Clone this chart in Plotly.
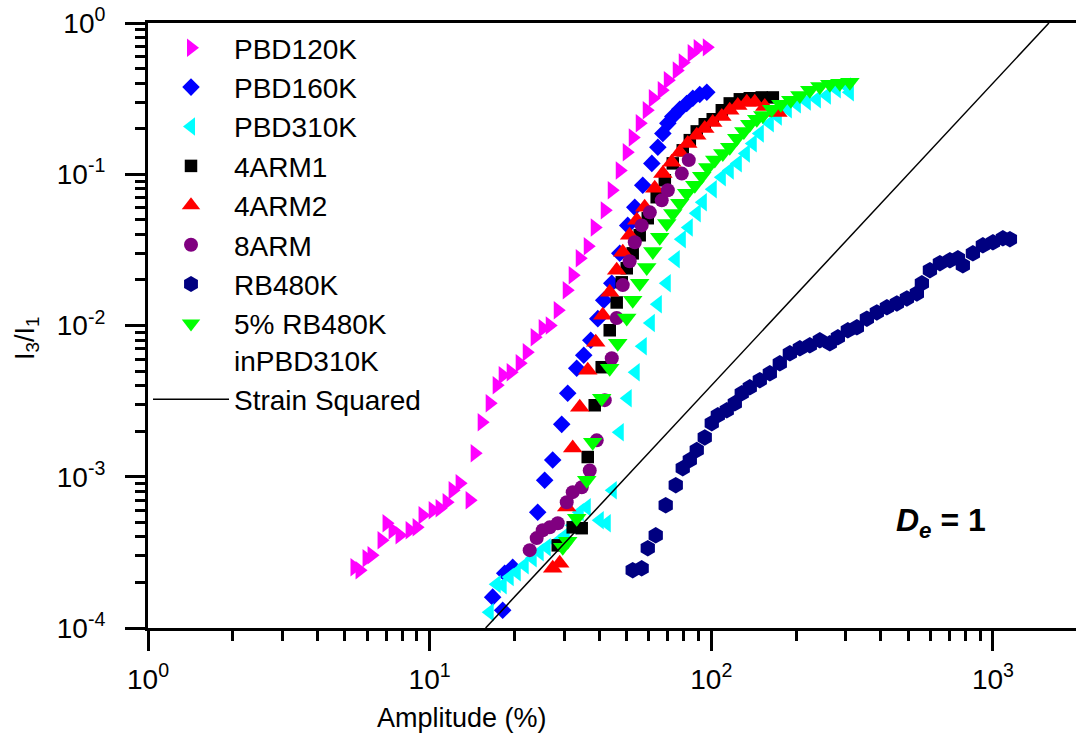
import plotly.graph_objects as go

# ---------------- data (amplitude %, I3/I1) ----------------
pbd120k_x = [5.41, 5.64, 5.97, 6.22, 6.75, 7.03, 7.39, 7.82, 8.49, 8.99, 9.44, 10.25, 10.85, 11.49,
             12.07, 12.78, 13.87, 14.45, 15.30, 16.34, 17.30, 18.17, 19.40, 20.88, 22.12, 23.60,
             25.20, 26.69, 28.50, 30.67, 32.21, 34.12, 36.42, 38.56, 41.86, 44.32, 47.32, 50.11,
             52.63, 55.72, 59.0, 62.0, 66.7, 70.1, 75.4, 79.2, 85.2, 89.5, 96.4]
pbd120k_y = [2.52e-4, 2.41e-4, 2.89e-4, 3.03e-4, 3.80e-4, 4.93e-4, 4.43e-4, 4.10e-4, 4.43e-4, 4.63e-4,
             5.56e-4, 6.01e-4, 6.19e-4, 6.79e-4, 8.14e-4, 9.06e-4, 7.00e-4, 1.43e-3, 2.29e-3, 3.06e-3,
             4.03e-3, 4.69e-3, 4.91e-3, 5.62e-3, 6.65e-3, 8.36e-3, 9.59e-3, 1.00e-2, 1.26e-2, 1.71e-2,
             2.15e-2, 2.78e-2, 3.34e-2, 4.45e-2, 5.77e-2, 7.83e-2, 0.106, 0.140, 0.175, 0.217, 0.265,
             0.318, 0.359, 0.418, 0.486, 0.549, 0.630, 0.680, 0.690]

pbd160k_x = [16.74, 18.17, 18.47, 19.72, 24.19, 25.61, 27.35, 29.44, 30.92, 33.28, 35.25, 37.33,
             39.54, 41.51, 44.32, 47.32, 50.5, 53.5, 57.1, 61.5, 64.6, 67.3, 70.1, 73.0, 77.3,
             81.8, 86.0, 91.0, 96.4]
pbd160k_y = [1.60e-4, 1.31e-4, 2.30e-4, 2.52e-4, 5.82e-4, 9.48e-4, 1.29e-3, 2.22e-3, 3.56e-3, 5.21e-3,
             6.35e-3, 7.98e-3, 1.11e-2, 1.47e-2, 1.90e-2, 3.00e-2, 4.59e-2, 6.04e-2, 8.45e-2, 0.118,
             0.151, 0.186, 0.217, 0.241, 0.269, 0.294, 0.318, 0.337, 0.348]

pbd310k_x = [16.34, 17.30, 18.17, 19.24, 20.38, 21.75, 23.22, 24.59, 26.04, 28.27, 30.42, 32.21,
             34.12, 36.13, 40.18, 42.55, 44.68, 47.32, 50.5, 53.9, 57.1, 61.0, 64.6, 69.5, 74.8,
             78.6, 83.2, 88.8, 93.3, 101.2, 109.0, 116.3, 124.2, 132.7, 140.4, 148.7, 161.4, 172.3,
             187.0, 201.3, 218.4, 237.1, 257.3, 279.1, 302.9, 310.5]
pbd310k_y = [1.27e-4, 1.95e-4, 1.92e-4, 2.17e-4, 2.34e-4, 2.60e-4, 2.89e-4, 3.17e-4, 3.42e-4, 3.69e-4,
             4.10e-4, 4.78e-4, 5.82e-4, 6.28e-4, 5.15e-4, 4.93e-4, 8.14e-4, 1.97e-3, 3.30e-3, 4.91e-3,
             7.30e-3, 1.04e-2, 1.38e-2, 1.90e-2, 2.74e-2, 3.72e-2, 4.45e-2, 5.52e-2, 6.52e-2, 7.95e-2,
             9.54e-2, 0.106, 0.118, 0.137, 0.160, 0.186, 0.217, 0.241, 0.269, 0.290, 0.303, 0.313,
             0.332, 0.364, 0.381, 0.348]

arm4_1_x = [28.50, 32.21, 34.67, 36.42, 38.56, 40.83, 43.60, 46.15, 48.1, 50.1, 52.6, 55.7, 59.5,
            64.0, 68.4, 73.0, 79.2, 83.9, 88.8, 94.8, 101.2, 109.0, 116.3, 126.3, 137.0, 151.1, 165.4]
arm4_1_y = [3.52e-4, 4.63e-4, 4.57e-4, 1.35e-3, 2.97e-3, 5.30e-3, 9.30e-3, 1.42e-2, 1.93e-2, 2.39e-2,
            3.00e-2, 3.95e-2, 5.12e-2, 7.05e-2, 9.12e-2, 0.118, 0.144, 0.168, 0.192, 0.214, 0.231,
            0.265, 0.294, 0.313, 0.318, 0.322, 0.322]

arm4_2_x = [27.35, 28.96, 30.67, 32.21, 34.12, 36.42, 38.89, 41.18, 43.60, 46.15, 48.5, 51.3, 54.4,
            58.0, 63.0, 67.3, 72.4, 77.3, 82.5, 88.8, 94.8, 101.2, 109.0, 116.3, 124.2, 133.7,
            142.7, 154.9, 172.3]
arm4_2_y = [2.48e-4, 2.68e-4, 6.30e-4, 1.55e-3, 2.88e-3, 5.06e-3, 7.74e-3, 1.17e-2, 1.66e-2, 2.32e-2,
            3.05e-2, 3.95e-2, 4.96e-2, 6.04e-2, 8.07e-2, 0.101, 0.120, 0.140, 0.160, 0.181, 0.201,
            0.220, 0.241, 0.265, 0.285, 0.299, 0.299, 0.281, 0.256]

arm8_x = [22.66, 23.99, 25.20, 26.69, 28.50, 30.67, 32.21, 34.67, 37.02, 39.20, 41.86, 44.32, 46.15,
          48.5, 51.3, 53.5, 56.6, 60.5, 66.7, 70.1, 78.6, 83.2]
arm8_y = [3.27e-4, 3.93e-4, 4.43e-4, 4.63e-4, 4.93e-4, 6.79e-4, 7.91e-4, 8.53e-4, 1.10e-3, 1.74e-3,
          3.21e-3, 6.08e-3, 1.12e-2, 1.85e-2, 2.66e-2, 3.55e-2, 4.59e-2, 5.60e-2, 6.72e-2, 7.83e-2,
          0.101, 0.124]

rb480k_x = [52.6, 56.6, 59.5, 63.5, 68.9, 74.8, 79.2, 83.9, 88.8, 94.8, 100.4, 105.5, 113.5, 121.2,
            128.3, 137.0, 148.7, 161.4, 175.1, 190.1, 206.3, 223.8, 242.9, 263.6, 281.5, 305.4,
            328.8, 356.8, 387.1, 420.2, 456.0, 494.9, 537.0, 559.5, 597.5, 648.2, 703.5, 751.0,
            782.0, 849.0, 921.0, 1000.0, 1085.0, 1149.0]
rb480k_y = [2.41e-4, 2.48e-4, 3.37e-4, 4.10e-4, 6.48e-4, 8.79e-4, 1.14e-3, 1.29e-3, 1.50e-3, 1.82e-3,
            2.26e-3, 2.55e-3, 2.75e-3, 3.06e-3, 3.56e-3, 3.90e-3, 4.35e-3, 4.83e-3, 5.62e-3, 6.55e-3,
            7.07e-3, 7.40e-3, 7.98e-3, 7.63e-3, 8.36e-3, 9.30e-3, 9.73e-3, 1.11e-2, 1.22e-2, 1.32e-2,
            1.40e-2, 1.51e-2, 1.63e-2, 1.90e-2, 2.32e-2, 2.58e-2, 2.70e-2, 2.78e-2, 2.50e-2, 3.00e-2,
            3.39e-2, 3.55e-2, 3.77e-2, 3.72e-2]

blend_x = [29.69, 30.92, 33.28, 36.13, 37.93, 40.83, 43.60, 46.55, 50.1, 52.6, 55.7, 59.0, 62.0,
           65.6, 69.5, 73.0, 77.3, 81.8, 87.4, 92.5, 97.2, 102.9, 109.9, 116.3, 123.2, 130.5,
           137.0, 145.1, 152.4, 164.0, 176.6, 191.6, 206.3, 223.8, 242.9, 263.6, 286.1, 310.5]
blend_y = [3.42e-4, 3.75e-4, 5.32e-4, 9.48e-4, 1.69e-3, 3.30e-3, 5.21e-3, 7.62e-3, 1.12e-2, 1.47e-2,
           1.90e-2, 2.42e-2, 3.09e-2, 3.83e-2, 4.73e-2, 5.51e-2, 6.43e-2, 7.48e-2, 8.45e-2, 9.69e-2,
           0.111, 0.124, 0.137, 0.151, 0.173, 0.192, 0.214, 0.231, 0.245, 0.269, 0.290, 0.308,
           0.332, 0.359, 0.381, 0.393, 0.399, 0.405]

strain_x = [15.8, 1581.0]
strain_y = [1.0e-4, 1.0]

x_tickvals = [1, 10, 100, 1000]
x_ticktext = ["10<sup>0</sup>", "10<sup>1</sup>", "10<sup>2</sup>", "10<sup>3</sup>"]
y_tickvals = [1e-4, 1e-3, 1e-2, 1e-1, 1]
y_ticktext = ["10<sup>-4</sup>", "10<sup>-3</sup>", "10<sup>-2</sup>", "10<sup>-1</sup>", "10<sup>0</sup>"]

x_minor = [m * 10 ** e for e in range(0, 4) for m in range(2, 10) if m * 10 ** e < 1990]
y_minor = [m * 10.0 ** e for e in range(-4, 0) for m in range(2, 10)]

series = [
    ("PBD120K", pbd120k_x, pbd120k_y, "triangle-right", "#FF00FF", 16),
    ("PBD160K", pbd160k_x, pbd160k_y, "diamond", "#0000FF", 13.5),
    ("PBD310K", pbd310k_x, pbd310k_y, "triangle-left", "#00FFFF", 16),
    ("4ARM1", arm4_1_x, arm4_1_y, "square", "#000000", 12.5),
    ("4ARM2", arm4_2_x, arm4_2_y, "triangle-up", "#FF0000", 17),
    ("8ARM", arm8_x, arm8_y, "circle", "#800080", 14),
    ("RB480K", rb480k_x, rb480k_y, "hexagon", "#000080", 16.5),
    ("5% RB480K<br>inPBD310K", blend_x, blend_y, "triangle-down", "#00FF00", 17),
]

FONT = "Liberation Sans, Arial, sans-serif"

fig = go.Figure()
for i, (name, xs, ys, sym, col, sz) in enumerate(series):
    fig.add_trace(go.Scatter(
        x=xs, y=ys, mode="markers", name=name, legendgroup=f"g{i}",
        marker=dict(symbol=sym, color=col, size=sz, line=dict(width=0)),
    ))
fig.add_trace(go.Scatter(
    x=strain_x, y=strain_y, mode="lines", name="Strain Squared", legendgroup="g8",
    line=dict(color="black", width=1.5),
))

fig.update_layout(
    width=1076, height=738,
    margin=dict(l=148, r=0, t=23, b=110, autoexpand=False),
    paper_bgcolor="white", plot_bgcolor="white",
    font=dict(family=FONT, color="black", size=28),
    showlegend=True,
    legend=dict(
        x=0, y=1, xanchor="left", yanchor="top",
        bgcolor="rgba(0,0,0,0)", borderwidth=0,
        font=dict(family=FONT, size=28, color="black"),
        itemwidth=76, tracegroupgap=0, valign="top",
        itemclick=False,
    ),
    annotations=[
        dict(text="Amplitude (%)", xref="paper", yref="paper", x=0.338, y=-0.149,
             xanchor="center", yanchor="middle", showarrow=False,
             font=dict(family=FONT, size=27, color="black")),
        dict(text="I<sub>3</sub>/I<sub>1</sub>", xref="paper", yref="paper", x=-0.131, y=0.48,
             xanchor="center", yanchor="middle", textangle=-90, showarrow=False,
             font=dict(family=FONT, size=27, color="black")),
        dict(text="<b><i>D</i><sub><i>e</i></sub> = 1</b>", xref="paper", yref="paper",
             x=0.855, y=0.175, xanchor="center", yanchor="middle", showarrow=False,
             font=dict(family=FONT, size=32, color="black")),
    ],
)

fig.update_xaxes(
    type="log", range=[0, 3.295], automargin=False,
    showgrid=False, zeroline=False,
    showline=True, linecolor="black", linewidth=3, mirror=True,
    ticks="outside", ticklen=20, tickwidth=3, tickcolor="black",
    tickvals=x_tickvals, ticktext=x_ticktext,
    tickfont=dict(family=FONT, size=28, color="black"),
    ticklabelstandoff=4,
    minor=dict(tickvals=x_minor, ticks="outside", ticklen=10, tickwidth=3,
               tickcolor="black", showgrid=False),
)
fig.update_yaxes(
    type="log", range=[-4, 0], automargin=False,
    showgrid=False, zeroline=False,
    showline=True, linecolor="black", linewidth=3, mirror=False,
    ticks="outside", ticklen=20, tickwidth=3, tickcolor="black",
    tickvals=y_tickvals, ticktext=y_ticktext,
    tickfont=dict(family=FONT, size=28, color="black"),
    ticklabelstandoff=14,
    minor=dict(tickvals=y_minor, ticks="outside", ticklen=10, tickwidth=3,
               tickcolor="black", showgrid=False),
)

fig.write_html(
    "out.html",
    config={"displayModeBar": False},
    post_script="document.body.style.margin='0';document.body.style.overflow='hidden';",
)
